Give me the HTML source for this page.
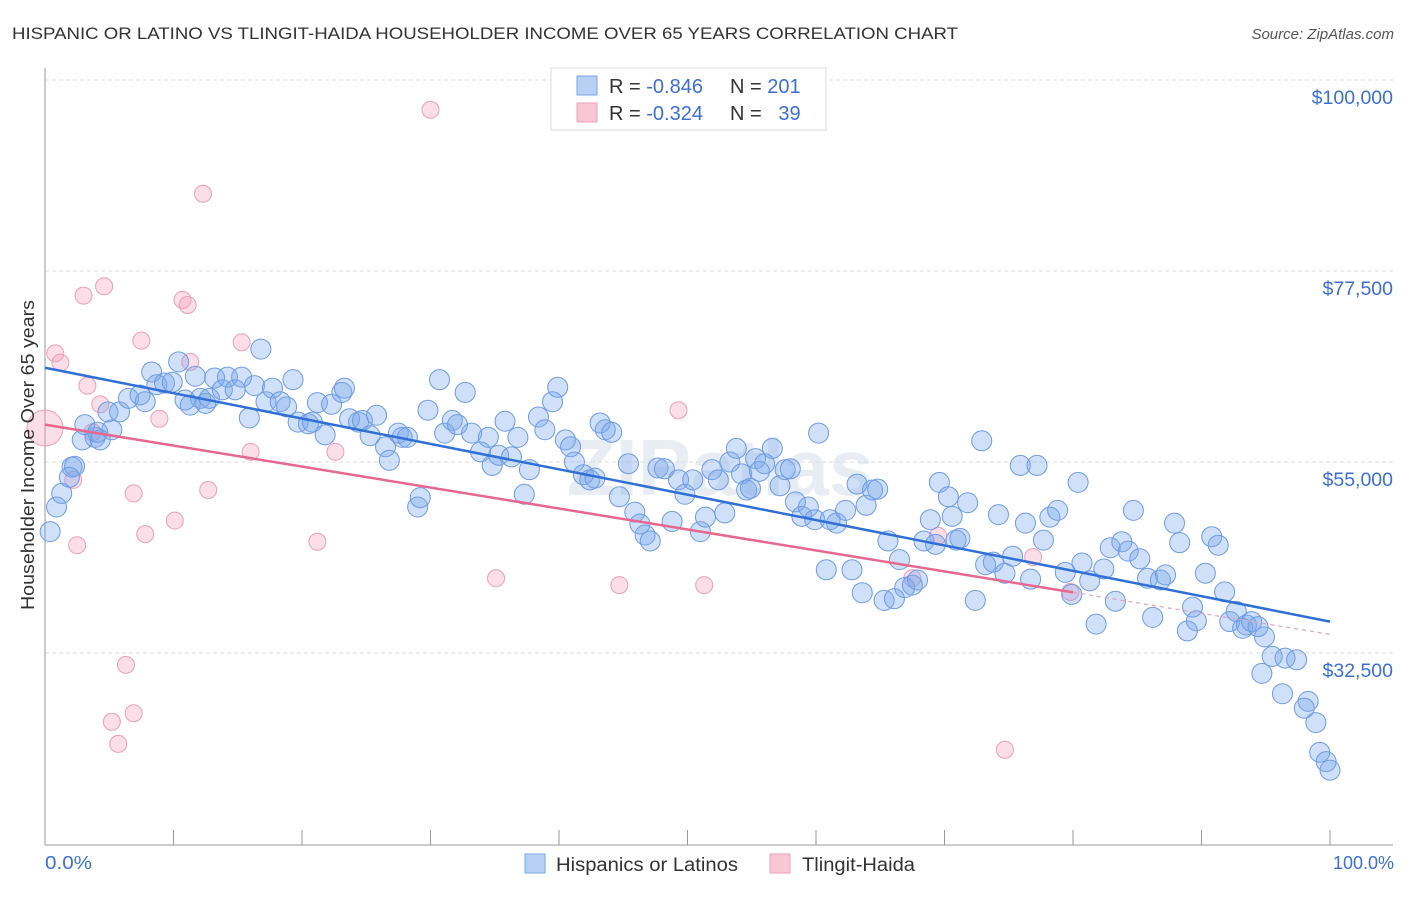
<!DOCTYPE html>
<html><head><meta charset="utf-8"><style>
body{margin:0;background:#fff;font-family:"Liberation Sans",sans-serif;}
svg text{font-family:"Liberation Sans",sans-serif;}
</style></head><body>
<svg id="chart" width="1406" height="892" viewBox="0 0 1406 892">
<text x="12" y="39" font-size="17" fill="#333" textLength="946" lengthAdjust="spacingAndGlyphs">HISPANIC OR LATINO VS TLINGIT-HAIDA HOUSEHOLDER INCOME OVER 65 YEARS CORRELATION CHART</text>
<text x="1394" y="39" font-size="15" fill="#555" font-style="italic" text-anchor="end">Source: ZipAtlas.com</text>
<text x="720" y="495" font-size="80" fill="#e8edf4" text-anchor="middle" font-weight="bold">ZIPatlas</text>
<g id="grid"></g>
<g id="axes"></g>
<g id="pinkpts"></g>
<g id="bluepts"></g>
<g id="trends"></g>
<text transform="translate(34,455) rotate(-90)" font-size="18" fill="#333" text-anchor="middle" textLength="310" lengthAdjust="spacingAndGlyphs">Householder Income Over 65 years</text>
<text x="45" y="869" font-size="18" fill="#3a6fd8" textLength="47" lengthAdjust="spacingAndGlyphs">0.0%</text>
<text x="1394" y="869" font-size="18" fill="#3a6fd8" text-anchor="end">100.0%</text>
<g>
<rect x="551" y="68" width="275" height="62" fill="#fff" stroke="#ddd"/>
<rect x="577" y="76" width="20" height="19" fill="#b8d0f4" stroke="#7aa6e8"/>
<rect x="577" y="103" width="20" height="19" fill="#f9c6d6" stroke="#eea0b8"/>
<text x="609" y="93" font-size="20" fill="#333">R = <tspan fill="#3a6fd8">-0.846</tspan></text>
<text x="730" y="93" font-size="20" fill="#333">N = <tspan fill="#3a6fd8">201</tspan></text>
<text x="609" y="120" font-size="20" fill="#333">R = <tspan fill="#3a6fd8">-0.324</tspan></text>
<text x="730" y="120" font-size="20" fill="#333">N = <tspan fill="#3a6fd8">&#160; 39</tspan></text>
</g>
<g>
<rect x="525" y="854" width="20" height="19" fill="#b8d0f4" stroke="#7aa6e8"/>
<text x="556" y="871" font-size="19" fill="#333" textLength="182" lengthAdjust="spacingAndGlyphs">Hispanics or Latinos</text>
<rect x="770" y="854" width="20" height="19" fill="#f9c6d6" stroke="#eea0b8"/>
<text x="802" y="871" font-size="19" fill="#333" textLength="113" lengthAdjust="spacingAndGlyphs">Tlingit-Haida</text>
</g>
</svg>
<script>
const yTicks=[100000,77500,55000,32500];
const yTickLabels=["$100,000","$77,500","$55,000","$32,500"];
const xTicks=[0,10,20,30,40,50,60,70,80,90,100];
const blueX=[0.4,0.9,1.3,2.1,2.3,1.9,3.1,2.9,3.9,4.3,4.1,5.2,4.9,5.8,6.5,7.4,7.8,8.3,8.7,9.3,9.9,10.4,10.9,11.3,11.7,12.1,12.5,12.8,13.2,13.8,14.2,14.8,15.3,15.9,16.3,16.8,17.2,17.7,18.3,18.8,19.3,19.7,20.5,20.8,21.2,21.8,22.3,23.1,23.3,23.7,24.4,24.7,25.3,25.8,26.5,26.8,27.5,27.8,28.2,29.0,29.2,29.8,30.7,31.1,31.7,32.1,32.7,33.2,33.9,34.5,34.8,35.3,35.8,36.3,36.8,37.3,37.7,38.4,38.9,39.5,39.9,40.5,40.9,41.2,41.9,42.4,42.8,43.2,43.6,44.1,44.7,45.4,45.9,46.3,46.7,47.1,47.7,48.2,48.8,49.3,49.8,50.4,51.0,51.4,51.9,52.4,52.9,53.3,53.8,54.2,54.6,54.9,55.3,55.6,56.0,56.6,57.2,57.6,58.0,58.4,58.9,59.4,59.9,60.2,60.8,61.1,61.6,62.3,62.8,63.2,63.6,63.9,64.4,64.8,65.3,65.6,66.1,66.5,66.9,67.5,67.9,68.4,68.9,69.3,69.6,70.3,70.6,70.9,71.2,71.8,72.4,72.9,73.2,73.8,74.2,74.7,75.3,75.9,76.3,76.7,77.2,77.7,78.2,78.8,79.4,79.9,80.4,80.7,81.3,81.8,82.4,82.9,83.3,83.8,84.3,84.7,85.2,85.8,86.2,86.8,87.2,87.9,88.3,88.9,89.3,89.6,90.3,90.8,91.3,91.8,92.2,92.7,93.2,93.5,93.9,94.4,94.9,95.5,96.5,97.4,96.3,94.7,98.3,98.0,98.9,99.2,99.7,100];
const blueY=[46.8,49.7,51.3,54.4,54.5,53.2,59.4,57.6,57.9,57.6,58.5,58.8,60.9,60.9,62.5,62.9,62.1,65.6,64.1,64.3,64.4,66.8,62.3,61.7,65.1,62.5,61.9,62.5,64.9,63.5,65.0,63.5,65.0,60.2,64.0,68.3,62.1,63.7,62.1,61.5,64.7,59.7,59.5,59.7,62.0,58.2,61.8,63.2,63.7,60.1,59.7,59.9,58.1,60.5,56.8,55.2,58.4,57.9,57.9,49.7,50.8,61.1,64.7,58.4,59.9,59.4,63.2,58.4,56.2,57.9,54.6,55.8,59.8,55.6,57.9,51.2,54.1,60.3,58.8,62.1,63.8,57.6,56.8,55.0,53.5,52.9,53.1,59.6,58.8,58.5,50.9,54.8,49.1,47.7,46.4,45.7,54.3,54.2,48.0,52.9,51.2,52.9,46.8,48.5,54.1,52.9,49.0,55.0,56.6,53.6,51.7,51.9,55.4,53.9,54.8,56.6,52.2,54.1,54.2,50.3,48.6,49.7,48.2,58.4,42.3,48.2,47.8,49.3,42.3,52.4,39.6,49.9,51.7,51.8,38.7,45.7,38.9,43.5,40.2,40.5,41.1,45.7,48.2,45.3,52.6,50.9,48.6,45.8,46.0,50.2,38.7,57.5,42.9,43.2,48.8,41.9,43.9,54.6,47.8,41.2,54.6,45.8,48.5,49.3,42.0,39.4,52.6,43.1,41.0,35.9,42.4,44.9,38.6,45.6,44.5,49.3,43.6,41.3,36.7,41.1,41.7,47.8,45.5,35.1,37.9,36.3,41.9,46.2,45.2,39.7,36.2,37.4,35.4,35.8,36.2,35.6,34.4,32.1,31.9,31.7,27.7,30.1,26.8,26.0,24.3,20.8,19.7,18.7];
const pinkX=[0,0.8,1.2,2.2,2.5,3.0,3.3,3.7,4.3,4.6,5.2,5.7,6.3,6.9,6.9,7.5,7.8,8.9,10.1,10.7,11.1,11.3,12.3,12.7,15.3,16.0,21.2,22.6,30.0,35.1,44.7,49.3,51.3,67.5,69.5,74.7,76.9,79.8];
const pinkY=[59.0,67.8,66.7,52.9,45.2,74.6,64.0,58.5,61.8,75.7,24.4,21.8,31.1,25.4,51.3,69.3,46.5,60.1,48.1,74.1,73.5,66.8,86.6,51.7,69.1,56.2,45.6,56.2,96.5,41.3,40.5,61.1,40.5,41.3,46.3,21.1,43.8,39.7];
const blueTrend=[66.1,36.2];
const pinkTrend=[59.4,34.7];
const pinkSolidEnd=80;

const NS="http://www.w3.org/2000/svg";
const sx=p=>45+p*12.85;
const sy=k=>80+(100-k)/22.5*191;
function mk(tag,attrs,parent){const e=document.createElementNS(NS,tag);for(const k in attrs)e.setAttribute(k,attrs[k]);parent.appendChild(e);return e;}
const grid=document.getElementById('grid'),axes=document.getElementById('axes');
yTicks.forEach((v,i)=>{
  const y=sy(v/1000);
  const l=mk('line',{x1:45,x2:1393,y1:y,y2:y,stroke:'#ddd','stroke-dasharray':'4,3'},grid);
  
  
  const t=mk('text',{x:1393,y:y+24,'font-size':19.5,fill:'#3a6fd8','text-anchor':'end'},grid);
  t.textContent=yTickLabels[i];
  
  
});
let a=mk('line',{x1:45,x2:45,y1:68,y2:845,stroke:'#999'},axes);


a=mk('line',{x1:45,x2:1393,y1:845,y2:845,stroke:'#999'},axes);


xTicks.forEach(p=>{
  const t=mk('line',{x1:sx(p),x2:sx(p),y1:830,y2:845,stroke:'#999'},axes);
  
  
});
const pg=document.getElementById('pinkpts');
pinkX.forEach((x,i)=>{
  const c=mk('circle',{cx:sx(x),cy:sy(pinkY[i]),r:i===0?18:8.5,fill:'rgba(244,160,188,0.35)',stroke:'#eba0b8','stroke-width':1},pg);
  
  
});
const bg=document.getElementById('bluepts');
blueX.forEach((x,i)=>{
  const c=mk('circle',{cx:sx(x),cy:sy(blueY[i]),r:10,fill:'rgba(120,165,235,0.35)',stroke:'#6c9be4','stroke-width':1},bg);
  
  
});
const tg=document.getElementById('trends');
let tl=mk('line',{x1:sx(0),y1:sy(blueTrend[0]),x2:sx(100),y2:sy(blueTrend[1]),stroke:'#2f6fd6','stroke-width':2.5},tg);


const pm=pinkTrend[0]+(pinkTrend[1]-pinkTrend[0])*pinkSolidEnd/100;
tl=mk('line',{x1:sx(0),y1:sy(pinkTrend[0]),x2:sx(pinkSolidEnd),y2:sy(pm),stroke:'#e8678f','stroke-width':2.5},tg);


tl=mk('line',{x1:sx(pinkSolidEnd),y1:sy(pm),x2:sx(100),y2:sy(pinkTrend[1]),stroke:'#e8a0b5','stroke-width':1.2,'stroke-dasharray':'4,4'},tg);


</script>
</body></html>
